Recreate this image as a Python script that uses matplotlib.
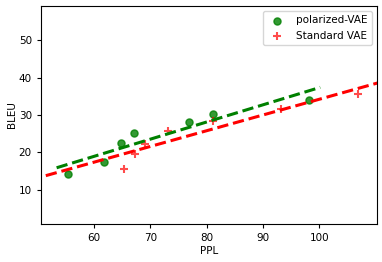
import numpy as np
import matplotlib
matplotlib.use('Agg')
import matplotlib.pyplot as plt

# data
ppl_pol = [55.3, 61.8, 64.8, 67.0, 76.9, 81.2, 98.2]
bleu_pol = [14.3, 17.4, 22.5, 25.2, 28.1, 30.4, 34.0]
ppl_std = [65.3, 67.2, 69.1, 73.1, 81.1, 93.2, 107.0]
bleu_std = [15.7, 19.7, 22.3, 25.7, 28.5, 31.5, 35.6]

fig = plt.figure(figsize=(3.82, 2.62), dpi=100)
ax = fig.add_axes([0.107, 0.145, 0.880, 0.832])

ax.scatter(ppl_pol, bleu_pol, c='green', alpha=0.8, s=26, label='polarized-VAE')
ax.scatter(ppl_std, bleu_std, c='red', alpha=0.7, marker='+', s=28, linewidths=1.5,
           label='Standard VAE')

# linear fits
p1 = np.polyfit(ppl_pol, bleu_pol, 1)
xs1 = np.linspace(min(ppl_pol) - 2, max(ppl_pol) + 2, 50)
ax.plot(xs1, np.polyval(p1, xs1), '--', color='green', lw=2.2)

p2 = np.polyfit(ppl_std, bleu_std, 1)
xs2 = np.linspace(40, 120, 50)
ax.plot(xs2, np.polyval(p2, xs2), '--', color='red', lw=2.2)

ax.set_xlim(50.5, 110.3)
ax.set_ylim(0.9, 59.1)
ax.set_xticks([60, 70, 80, 90, 100])
ax.set_yticks([10, 20, 30, 40, 50])
ax.tick_params(labelsize=7.5, length=3)
ax.set_xlabel('PPL', fontsize=7.5, labelpad=2)
ax.set_ylabel('BLEU', fontsize=7.5, labelpad=1.5)
ax.legend(loc='upper right', fontsize=7.5)

fig.savefig('out.png', dpi=100)
